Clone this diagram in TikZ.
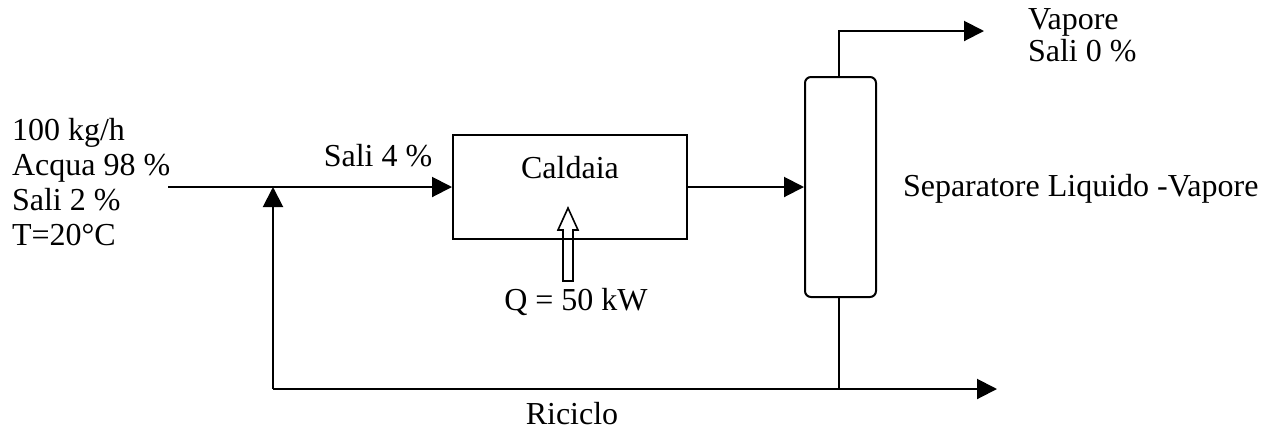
\documentclass[tikz,border=0pt]{standalone}
\usepackage{fontspec}
\setmainfont{Liberation Serif}
\usetikzlibrary{arrows.meta}
\begin{document}
\begin{tikzpicture}[x=0.5pt,y=-0.5pt,
  line width=1pt,
  flow/.style={-{Triangle[length=10pt,width=10pt]}},
  txt/.style={font=\fontsize{16pt}{17.6pt}\selectfont, inner sep=0pt},
  unit/.style={draw, line width=1pt, inner sep=0pt}]
\useasboundingbox (0,0) rectangle (1274,430);
% units
\node[unit, minimum width=117pt, minimum height=52pt] (boiler) at (570,187) {};
\node[txt] (caldaia) at (570,168) {Caldaia};
\node[unit, rounded corners=3pt, minimum width=35.5pt, minimum height=110pt] (sep) at (840.5,187) {};
% coordinates
\coordinate (in) at (168,187);
\coordinate (mix) at (273,187);
\coordinate (rbot) at (273,389);
\coordinate (sbot) at (839,389);
\coordinate (vtop) at (839,31);
\coordinate (vend) at (984,31);
\coordinate (lend) at (997,389);
% flows
\draw[flow] (in) -- (boiler.west |- in);
\draw[flow] (boiler.east |- in) -- (sep.west |- in);
\draw[flow] (rbot) -- (mix);
\draw (sep.south -| sbot) -- (sbot);
\draw[flow] (rbot) -- (lend);
\draw[flow] (sep.north -| vtop) -- (vtop) -- (vend);
% heat arrow
\draw[line width=0.8pt] (563,281) -- (563,230) -- (558,230) -- (568,208) -- (578,230) -- (573,230) -- (573,281) -- cycle;
% labels
\node[txt, align=left, anchor=north west] (feed) at (11,117) {100 kg/h\\Acqua 98 \%\\Sali 2 \%\\T=20°C};
\node[txt] (sali4) at (378,156) {Sali 4 \%};
\node[txt] (q) at (576,302) {Q = 50 kW};
\node[txt, font=\fontsize{16pt}{16pt}\selectfont, align=left, anchor=north west] (vap) at (1027,8) {Vapore\\Sali 0 \%};
\node[txt, anchor=west] (seplab) at (902,189) {Separatore Liquido -Vapore};
\node[txt] (ric) at (572,414) {Riciclo};
\end{tikzpicture}
\end{document}
